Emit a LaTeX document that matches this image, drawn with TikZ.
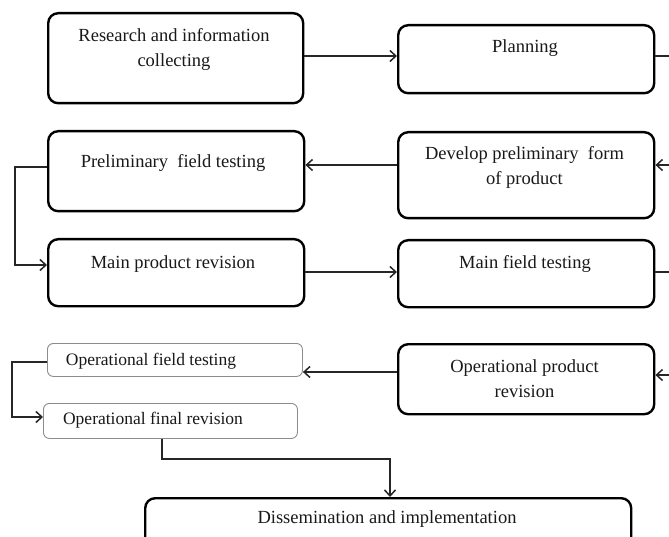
\documentclass[tikz,border=0pt]{standalone}
\usepackage{fontspec}
\setmainfont{Liberation Serif}
\usetikzlibrary{arrows.meta,positioning}
\begin{document}
\begin{tikzpicture}[x=1pt,y=-1pt,
  bigbox/.style={draw=black, line width=2.4pt, rounded corners=10pt, anchor=north west, inner sep=0pt},
  smallbox/.style={draw=black!45, line width=0.9pt, rounded corners=6pt, anchor=north west, inner sep=0pt},
  lbl/.style={font=\fontsize{18.5}{25}\selectfont, align=center, inner sep=0pt, text=black!90},
  slbl/.style={font=\fontsize{17.5}{22}\selectfont, align=center, inner sep=0pt, text=black!90},
  conn/.style={draw=black!85, line width=1.5pt},
  arr/.style={conn, -{Straight Barb[length=6pt,width=11pt,line width=1.5pt]}}
]
\clip (0,0) rectangle (669,537);
\fill[white] (0,0) rectangle (669,537);

% boxes
\node[bigbox, minimum width=255pt, minimum height=90pt] (res) at (47,12) {};
\node[bigbox, minimum width=256pt, minimum height=68pt] (plan) at (397,24) {};
\node[bigbox, minimum width=256pt, minimum height=86pt] (dev) at (397,131) {};
\node[bigbox, minimum width=256pt, minimum height=80pt] (prelim) at (47,130) {};
\node[bigbox, minimum width=256pt, minimum height=67pt] (mainrev) at (47,238) {};
\node[bigbox, minimum width=256pt, minimum height=67pt] (mainfield) at (397,239) {};
\node[bigbox, minimum width=256pt, minimum height=70pt] (opprod) at (397,343) {};
\node[smallbox, minimum width=255pt, minimum height=33pt] (opfield) at (47,343) {};
\node[smallbox, minimum width=254pt, minimum height=35pt] (opfinal) at (43,403) {};
\node[bigbox, minimum width=486pt, minimum height=60pt] (diss) at (144,497) {};

% texts
\node[lbl] (tres) at (174,49) {Research and information\\collecting};
\node[lbl] (tplan) at (525,48) {Planning};
\node[lbl] (tdev) at (524.5,167) {Develop preliminary\ \ form\\of product};
\node[lbl] (tprelim) at (173,163) {Preliminary\ \ field testing};
\node[lbl] (tmainrev) at (173,264) {Main product revision};
\node[lbl] (tmainfield) at (525,264) {Main field testing};
\node[lbl] (topprod) at (524.5,379) {Operational product\\revision};
\node[slbl] (topfield) at (151,361.5) {Operational field testing};
\node[slbl] (topfinal) at (153,420.5) {Operational final revision};
\node[lbl] (tdiss) at (387,519.5) {Dissemination and implementation};

% free ends and bends
\coordinate (r1) at (680,56);
\coordinate (r2) at (680,165);
\coordinate (r3) at (680,272);
\coordinate (r4) at (680,375);
\coordinate (l1) at (15,167);
\coordinate (l2) at (15,265);
\coordinate (l3) at (12,362);
\coordinate (l4) at (12,417);
\coordinate (b1) at (162,459);
\coordinate (b2) at (390,459);

% connectors
\draw[arr] (res.east |- r1) -- (r1 -| plan.west);
\draw[conn] (plan.east |- r1) -- (r1);
\draw[arr] (r2) -- (r2 -| dev.east);
\draw[arr] (dev.west |- r2) -- (r2 -| prelim.east);
\draw[arr] (prelim.west |- l1) -- (l1) -- (l2) -- (l2 -| mainrev.west);
\draw[arr] (mainrev.east |- r3) -- (r3 -| mainfield.west);
\draw[conn] (mainfield.east |- r3) -- (r3);
\draw[arr] (r4) -- (r4 -| opprod.east);
\draw[arr] (opprod.west |- 0,372) -- (opfield.east |- 0,372);
\draw[arr] (opfield.west |- l3) -- (l3) -- (l4) -- (l4 -| opfinal.west);
\draw[arr] (opfinal.south -| b1) -- (b1) -- (b2) -- (b2 |- diss.north);
\end{tikzpicture}
\end{document}
